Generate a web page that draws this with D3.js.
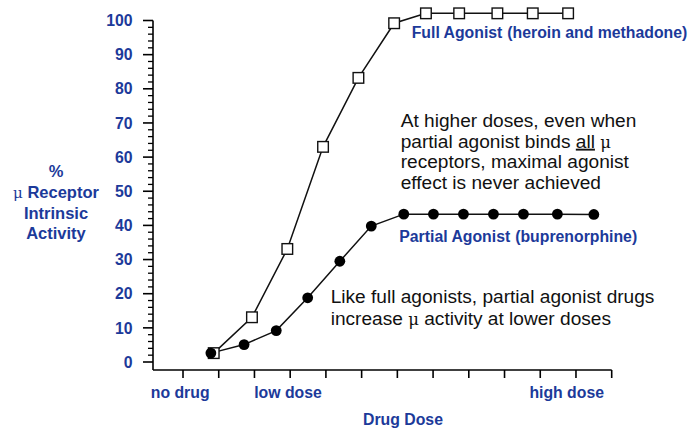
<!DOCTYPE html>
<html><head><meta charset="utf-8">
<script src="https://cdn.jsdelivr.net/npm/d3@7"></script>
<style>
html,body{margin:0;padding:0;background:#fff;}
svg{display:block;font-family:"Liberation Sans",Arial,sans-serif;}
</style></head>
<body>
<svg id="chart" width="700" height="429"></svg>
<script>
// ---- data ----
const fullDose = [0.86, 1.93, 2.92, 3.92, 4.91, 5.91, 6.80, 7.73, 8.80, 9.79, 10.78];
const fullActivity = [2.6, 13.1, 33.1, 63.0, 83.2, 99.2, 102.1, 102.1, 102.1, 102.1, 102.1];
const partialDose = [0.78, 1.71, 2.61, 3.49, 4.39, 5.27, 6.18, 7.01, 7.85, 8.69, 9.53, 10.48, 11.5];
const partialActivity = [2.6, 5.1, 9.2, 18.8, 29.5, 39.8, 43.3, 43.3, 43.3, 43.3, 43.3, 43.3, 43.2];
const yTicks = [0, 10, 20, 30, 40, 50, 60, 70, 80, 90, 100];
const xTicks = [0, 1, 2, 3, 4, 5, 6, 7, 8, 9, 10, 11, 12];
const doseLabels = ["no drug", "low dose", "high dose"];
const doseLabelAt = [-0.08, 2.94, 10.74];

const BLUE = "#1c3a9a";
const svg = d3.select("#chart");

const x = d3.scaleLinear().domain([-0.84, 12]).range([153, 611.7]);
const y = d3.scaleLinear().domain([0, 100]).range([362, 20.5]);
const axisY = 370;

// y axis
const yAxis = svg.append("g").attr("transform", `translate(${x(-0.84)},0)`);
yAxis.append("line").attr("x1", 0).attr("x2", 0).attr("y1", y(100)).attr("y2", axisY)
  .attr("stroke", "#000").attr("stroke-width", 1.6);
const minor = d3.range(0, 101, 2).filter(v => v % 10 !== 0);
yAxis.selectAll(".mn").data(minor).join("line")
  .attr("x1", -5).attr("x2", 0).attr("y1", d => y(d)).attr("y2", d => y(d))
  .attr("stroke", "#000").attr("stroke-width", 1.3);
yAxis.selectAll(".mj").data(yTicks).join("line")
  .attr("x1", -10).attr("x2", 0).attr("y1", d => y(d)).attr("y2", d => y(d))
  .attr("stroke", "#000").attr("stroke-width", 1.6);
yAxis.selectAll(".yl").data(yTicks).join("text")
  .attr("x", -20.5).attr("y", d => y(d)).attr("dy", "0.36em")
  .attr("text-anchor", "end").attr("fill", BLUE)
  .attr("font-weight", "bold").attr("font-size", 15.8).text(d => d);

// x axis
const xAxis = svg.append("g").attr("transform", `translate(0,${axisY})`);
xAxis.append("line").attr("x1", x(-0.84)).attr("x2", x(12)).attr("y1", 0).attr("y2", 0)
  .attr("stroke", "#000").attr("stroke-width", 1.6);
xAxis.selectAll(".xt").data(xTicks).join("line")
  .attr("x1", d => x(d)).attr("x2", d => x(d)).attr("y1", 0).attr("y2", 8)
  .attr("stroke", "#000").attr("stroke-width", 1.6);
xAxis.selectAll(".xl").data(doseLabels).join("text")
  .attr("x", (d, i) => x(doseLabelAt[i])).attr("y", 27.5)
  .attr("text-anchor", "middle").attr("fill", BLUE)
  .attr("font-weight", "bold").attr("font-size", 15.8).text(d => d);
svg.append("text").attr("x", 403).attr("y", 424.5).attr("text-anchor", "middle")
  .attr("fill", BLUE).attr("font-weight", "bold").attr("font-size", 15.8).text("Drug Dose");

// y title
const yt = svg.append("text").attr("text-anchor", "middle").attr("fill", BLUE)
  .attr("font-weight", "bold").attr("font-size", 16.5);
yt.append("tspan").attr("x", 56).attr("y", 177).text("%");
const l2 = yt.append("tspan").attr("x", 56).attr("y", 198);
l2.append("tspan").attr("font-weight", "normal").attr("font-family", "'DejaVu Serif',serif").attr("font-size", 15).text("μ");
l2.append("tspan").text(" Receptor");
yt.append("tspan").attr("x", 56).attr("y", 219).text("Intrinsic");
yt.append("tspan").attr("x", 56).attr("y", 239).text("Activity");

// lines
const line = d3.line().x(d => x(d[0])).y(d => y(d[1]));
const fullPts = fullDose.map((d, i) => [d, fullActivity[i]]);
const partPts = partialDose.map((d, i) => [d, partialActivity[i]]);
svg.append("path").attr("d", line(fullPts)).attr("fill", "none").attr("stroke", "#111").attr("stroke-width", 1.5);
svg.append("path").attr("d", line(partPts)).attr("fill", "none").attr("stroke", "#111").attr("stroke-width", 1.5);

svg.selectAll(".fs").data(fullPts).join("rect")
  .attr("x", d => x(d[0]) - 5.3).attr("y", d => y(d[1]) - 5.3)
  .attr("width", 10.6).attr("height", 10.6)
  .attr("fill", "#fff").attr("stroke", "#111").attr("stroke-width", 1.4);
svg.selectAll(".pc").data(partPts).join("circle")
  .attr("cx", d => x(d[0])).attr("cy", d => y(d[1])).attr("r", 5.4).attr("fill", "#000");

// series labels
const lab = (tx, ty, a, b) => {
  const t = svg.append("text").attr("x", tx).attr("y", ty).attr("fill", BLUE)
    .attr("font-weight", "bold").attr("font-size", 15.8);
  t.append("tspan").text(a);
  t.append("tspan").attr("dx", 5).text(b);
};
lab(411.7, 38, "Full Agonist", "(heroin and methadone)");
lab(399.3, 241.5, "Partial Agonist", "(buprenorphine)");

// annotations
const ann1 = svg.append("text").attr("font-size", 19.1).attr("fill", "#111");
ann1.append("tspan").attr("x", 400.7).attr("y", 127).text("At higher doses, even when");
const a2 = ann1.append("tspan").attr("x", 400.7).attr("y", 147.7);
a2.append("tspan").text("partial agonist binds ");
a2.append("tspan").attr("text-decoration", "underline").text("all");
a2.append("tspan").attr("font-family", "'DejaVu Serif',serif").attr("font-size", 16.5).text(" μ");
ann1.append("tspan").attr("x", 400.7).attr("y", 168.4).text("receptors, maximal agonist");
ann1.append("tspan").attr("x", 400.7).attr("y", 189).text("effect is never achieved");

const ann2 = svg.append("text").attr("font-size", 19.1).attr("fill", "#111");
ann2.append("tspan").attr("x", 330.7).attr("y", 303).text("Like full agonists, partial agonist drugs");
const b2 = ann2.append("tspan").attr("x", 330.7).attr("y", 324.5);
b2.append("tspan").text("increase ");
b2.append("tspan").attr("font-family", "'DejaVu Serif',serif").attr("font-size", 16.5).text("μ");
b2.append("tspan").text(" activity at lower doses");
</script>
</body></html>
